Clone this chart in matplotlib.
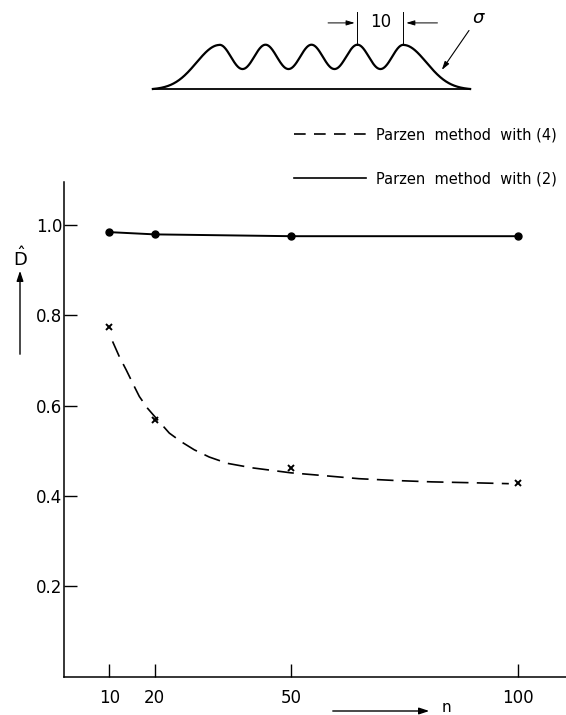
import numpy as np
import matplotlib
matplotlib.use("Agg")
import matplotlib.pyplot as plt
from matplotlib.lines import Line2D
from matplotlib.patches import FancyArrowPatch

matplotlib.rcParams['font.family'] = 'DejaVu Sans'
matplotlib.rcParams['mathtext.fontset'] = 'dejavusans'

# ---- data ----
n_pts = [10, 20, 50, 100]
d_parzen2 = [0.984, 0.979, 0.975, 0.975]      # solid, dots
d_parzen4 = [0.773, 0.567, 0.461, 0.428]      # crosses
# hand-drawn dashed trend through the crosses
n_curve4 = [10.7, 12.2, 13.7, 15.5, 16.6, 18.4, 20.3, 23.2, 25.8, 28.7,
            32, 36, 41.5, 50, 57, 65, 73, 81, 90, 98]
d_curve4 = [0.742, 0.708, 0.679, 0.642, 0.620, 0.594, 0.572, 0.539, 0.520, 0.502,
            0.486, 0.472, 0.462, 0.451, 0.445, 0.438, 0.434, 0.431, 0.429, 0.427]
x_ticks = [10, 20, 50, 100]
y_ticks = [0.2, 0.4, 0.6, 0.8, 1.0]
labels = ['Parzen  method  with (4)', 'Parzen  method  with (2)']

# schematic of the density: 5 bumps, pitch 10
bump_centres = [-20, -10, 0, 10, 20]

W, H = 566, 715
fig = plt.figure(figsize=(W / 100, H / 100), dpi=100)

# ---- main axes ----
ax = fig.add_axes([64 / W, 1 - 676.5 / H, (W - 64) / W, (676.5 - 182) / H])
dash = (0, (10, 5))
ax.plot(n_curve4, d_curve4, color='black', lw=1.2, linestyle=dash)
ax.plot(n_pts, d_parzen4, 'x', color='black', ms=5, mew=1.4)
ax.plot(n_pts, d_parzen2, '-', color='black', lw=1.4,
        marker='o', ms=5, mfc='black')

ax.set_xlim(0, 110.6)
ax.set_ylim(0, 1.095)
ax.set_xticks(x_ticks)
ax.set_yticks(y_ticks)
ax.set_xticklabels([str(v) for v in x_ticks])
ax.set_yticklabels([f'{v:.1f}' for v in y_ticks])
ax.tick_params(axis='both', direction='in', length=9.5, width=1.0, labelsize=12)
ax.tick_params(axis='y', pad=1)
ax.tick_params(axis='x', pad=9)
for s in ['top', 'right']:
    ax.spines[s].set_visible(False)
for s in ['left', 'bottom']:
    ax.spines[s].set_linewidth(1.1)

handles = [Line2D([], [], color='black', lw=1.2, linestyle=(0, (7, 5))),
           Line2D([], [], color='black', lw=1.2)]
ax.legend(handles, labels, loc='upper left', frameon=False,
          bbox_to_anchor=(281 / W, 1 - 114 / H), bbox_transform=fig.transFigure,
          handlelength=4.9, handletextpad=0.7, labelspacing=2.0, fontsize=10.5)

# axis labels with arrows
fig.text(20 / W, 1 - 258 / H, r'$\hat{\mathsf{D}}$', fontsize=13, ha='center', va='center')
fig.add_artist(FancyArrowPatch(
    (20 / W, 1 - 357 / H), (20 / W, 1 - 268 / H), transform=fig.transFigure,
    arrowstyle='-|>,head_length=6,head_width=2', lw=1.0, color='black'))
fig.add_artist(FancyArrowPatch(
    (330 / W, 1 - 711 / H), (432 / W, 1 - 711 / H), transform=fig.transFigure,
    arrowstyle='-|>,head_length=6,head_width=2', lw=1.0, color='black'))
fig.text(446 / W, 1 - 708 / H, 'n', fontsize=11, ha='center', va='center')

# ---- schematic inset ----
ins = fig.add_axes([140 / W, 1 - 100 / H, 360 / W, 100 / H])
ins.set_xlim(-37.3, 41.0)
ins.set_ylim(-0.25, 2.02)
ins.axis('off')
t = np.linspace(-34.5, 34.5, 800)
bumps = sum(np.exp(-(t - c) ** 2 / (2 * 2.9 ** 2)) for c in bump_centres)
edge = np.abs(t) - 20
tail = np.where(edge > 0, np.exp(-edge ** 2 / (2 * 5.0 ** 2)) - 0.015 * edge / 14.5, 0)
profile = np.where(edge > 0, tail, bumps)
ins.plot(t, profile, color='black', lw=1.6)
ins.plot([-34.5, 34.5], [0, 0], color='black', lw=1.3)
for c in (10, 20):
    ins.plot([c, c], [1.0, 1.75], color='black', lw=0.7)
ins.annotate('', xy=(10, 1.5), xytext=(3, 1.5),
             arrowprops=dict(arrowstyle='-|>,head_length=0.5,head_width=0.15', lw=0.7, color='black'))
ins.annotate('', xy=(20, 1.5), xytext=(28, 1.5),
             arrowprops=dict(arrowstyle='-|>,head_length=0.5,head_width=0.15', lw=0.7, color='black'))
ins.text(15, 1.52, '10', fontsize=12, ha='center', va='center')
ins.text(36.5, 1.62, r'$\sigma$', fontsize=13, ha='center', va='center')
ins.annotate('', xy=(28, 0.38), xytext=(34.6, 1.38),
             arrowprops=dict(arrowstyle='-|>,head_length=0.5,head_width=0.15', lw=0.8, color='black'))

fig.savefig('out.png', dpi=100)
